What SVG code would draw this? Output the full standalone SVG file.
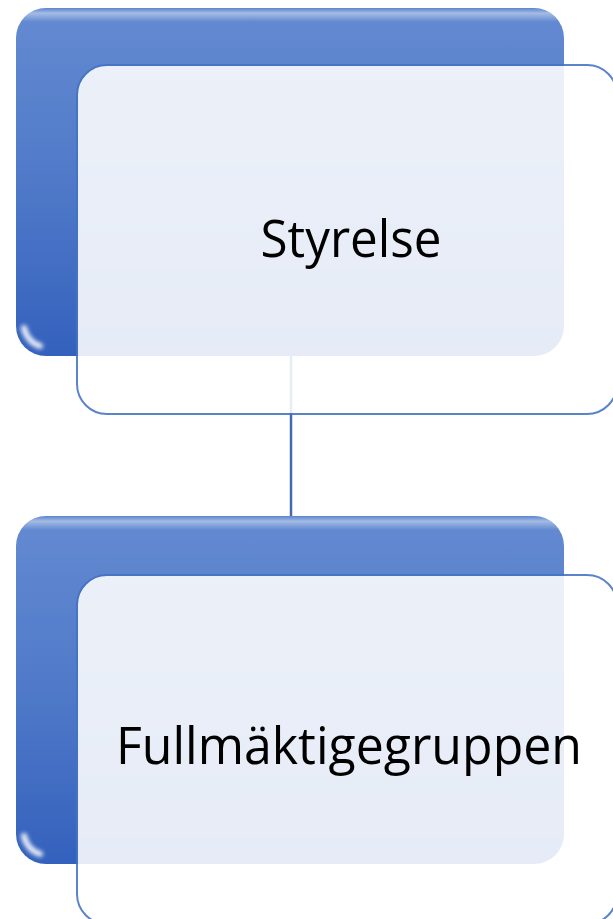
<svg xmlns="http://www.w3.org/2000/svg" width="613" height="919" viewBox="0 0 613 919">
<defs>
<linearGradient id="backGrad" x1="0" y1="0" x2="0" y2="1">
<stop offset="0" stop-color="#5b84cf"/>
<stop offset="0.5" stop-color="#4b76c7"/>
<stop offset="1" stop-color="#3461bd"/>
</linearGradient>
<linearGradient id="shine" x1="0" y1="0" x2="0" y2="1">
<stop offset="0" stop-color="#ffffff" stop-opacity="0"/>
<stop offset="0.015" stop-color="#ffffff" stop-opacity="0.45"/>
<stop offset="0.04" stop-color="#ffffff" stop-opacity="0.05"/>
<stop offset="1" stop-color="#ffffff" stop-opacity="0"/>
</linearGradient>
<filter id="blur" x="-50%" y="-50%" width="200%" height="200%">
<feGaussianBlur stdDeviation="2"/>
</filter>
</defs>
<style>
.back{fill:url(#backGrad);}
.shine{fill:url(#shine);}
.glint{fill:none;stroke:#ffffff;stroke-width:6;stroke-linecap:round;opacity:0.9;filter:url(#blur);}
.front{fill:#ffffff;stroke:#4472c4;stroke-width:2;}
.frontg{opacity:0.88;}
.label{font-family:"Open Sans","Liberation Sans",sans-serif;font-size:51px;fill:#000000;text-anchor:middle;}
.conn{stroke:#4468b4;stroke-width:2.5;fill:none;}
</style>
<rect width="613" height="919" fill="#ffffff"/>
<g id="connectors">
<line class="conn" x1="291" y1="356" x2="291" y2="517"/>
</g>
<g id="node-styrelse">
<rect class="back" x="16" y="8" width="548" height="348" rx="30"/>
<rect class="shine" x="16" y="8" width="548" height="348" rx="30"/>
<path class="glint" d="M24,328 A24,24 0 0 0 40,346"/>
<g class="frontg">
<rect class="front" x="77" y="65" width="540" height="349" rx="30"/>
</g>
<text class="label" x="351" y="257" textLength="181" lengthAdjust="spacingAndGlyphs">Styrelse</text>
</g>
<g id="node-fullmaktigegruppen">
<rect class="back" x="16" y="516" width="548" height="348" rx="30"/>
<rect class="shine" x="16" y="516" width="548" height="348" rx="30"/>
<path class="glint" d="M24,836 A24,24 0 0 0 40,854"/>
<g class="frontg">
<rect class="front" x="77" y="575" width="540" height="349" rx="30"/>
</g>
<text class="label" x="349" y="764" textLength="466" lengthAdjust="spacingAndGlyphs">Fullmäktigegruppen</text>
</g>
</svg>
